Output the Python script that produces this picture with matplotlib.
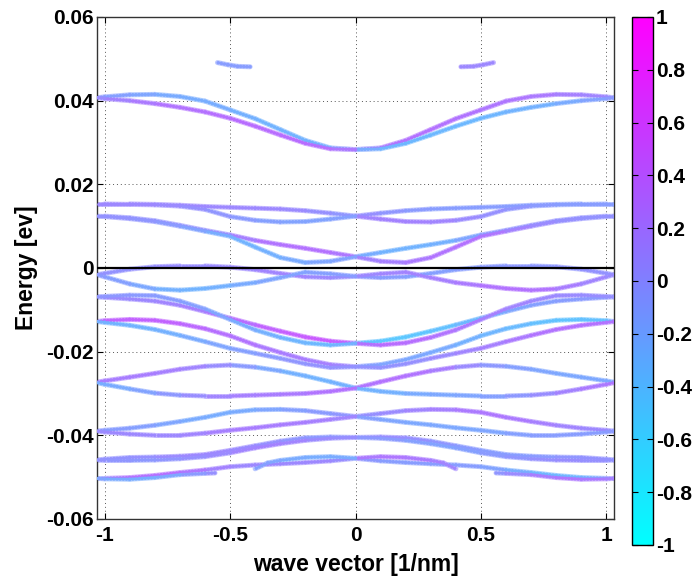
import numpy as np
import matplotlib
matplotlib.use("Agg")
import matplotlib.pyplot as plt
from matplotlib.collections import LineCollection
from matplotlib.colors import Normalize
from matplotlib.cm import ScalarMappable
from matplotlib.ticker import FuncFormatter

plt.rcParams['font.family'] = ['Liberation Sans', 'DejaVu Sans']
plt.rcParams['font.weight'] = 'bold'
plt.rcParams['axes.unicode_minus'] = False

# wave-vector nodes (1/nm) for the k >= 0 half; the k < 0 half is its
# time-reversed partner (same energy, opposite spin polarisation)
k_nodes = [0.0, 0.1, 0.2, 0.3, 0.4, 0.5, 0.6, 0.7, 0.8, 0.9, 1.0, 1.03]

# band energies (eV) and spin polarisation for each band
e_h1 = [0.0283, 0.0287, 0.0305, 0.0331, 0.0357, 0.0378, 0.0399, 0.0410, 0.0415, 0.0414, 0.0409, 0.0407]
s_h1 = [0.2, 0.25, 0.3, 0.3, 0.3, 0.25, 0.25, 0.25, 0.2, 0.15, 0.1, 0.05]
e_h2 = [0.0283, 0.0285, 0.0298, 0.0318, 0.0339, 0.0358, 0.0373, 0.0384, 0.0393, 0.0400, 0.0405, 0.0407]
s_h2 = [-0.2, -0.3, -0.35, -0.35, -0.35, -0.35, -0.3, -0.3, -0.25, -0.2, -0.1, -0.05]

k_top = [0.42, 0.47, 0.51, 0.55]
e_top = [0.0481, 0.0482, 0.0486, 0.0491]
s_top = [0.1, 0.1, 0.1, 0.1]

e_m1 = [0.0124, 0.0131, 0.0137, 0.0141, 0.0143, 0.0145, 0.0147, 0.0150, 0.0152, 0.0153, 0.0153, 0.0153]
s_m1 = [0.05, 0.0, -0.05, -0.1, -0.1, -0.1, -0.1, -0.1, -0.1, -0.1, -0.1, -0.1]
e_m2 = [0.0124, 0.0117, 0.0111, 0.0110, 0.0114, 0.0123, 0.0140, 0.0148, 0.0151, 0.0152, 0.0153, 0.0153]
s_m2 = [0.1, 0.15, 0.15, 0.15, 0.1, 0.05, 0.0, -0.05, -0.1, -0.1, -0.1, -0.1]

e_r = [0.0027, 0.0037, 0.0047, 0.0056, 0.0066, 0.0079, 0.0090, 0.0102, 0.0113, 0.0120, 0.0124, 0.0124]
s_r = [-0.2, -0.3, -0.3, -0.3, -0.25, -0.1, -0.05, 0.0, 0.0, 0.0, 0.0, 0.0]
e_s = [0.0027, 0.0016, 0.0013, 0.0025, 0.0050, 0.0076, 0.0088, 0.0100, 0.0111, 0.0118, 0.0123, 0.0124]
s_s = [0.15, 0.15, 0.2, 0.25, 0.3, 0.3, 0.2, 0.1, 0.05, 0.0, 0.0, 0.0]

e_t = [-0.0020, -0.0023, -0.0021, -0.0013, -0.0004, 0.0002, 0.0005, 0.0005, 0.0003, -0.0003, -0.0013, -0.0016]
s_t = [0.0, -0.1, -0.1, -0.15, -0.1, -0.1, -0.05, -0.05, -0.05, 0.0, 0.0, 0.0]
e_u = [-0.0020, -0.0014, -0.0010, -0.0023, -0.0035, -0.0042, -0.0049, -0.0053, -0.0050, -0.0038, -0.0021, -0.0016]
s_u = [0.1, 0.1, 0.15, 0.15, 0.2, 0.25, 0.3, 0.3, 0.25, 0.15, 0.1, 0.05]

e_q1 = [-0.0180, -0.0175, -0.0165, -0.0151, -0.0136, -0.0120, -0.0104, -0.0089, -0.0079, -0.0074, -0.0070, -0.0069]
s_q1 = [-0.4, -0.5, -0.5, -0.45, -0.4, -0.3, -0.2, -0.15, -0.1, -0.1, -0.05, 0.0]
e_q2 = [-0.0180, -0.0184, -0.0179, -0.0166, -0.0148, -0.0123, -0.0098, -0.0079, -0.0066, -0.0065, -0.0068, -0.0069]
s_q2 = [0.25, 0.35, 0.35, 0.3, 0.25, 0.2, 0.15, 0.1, 0.1, 0.05, 0.05, 0.0]

e_v1 = [-0.0236, -0.0231, -0.0219, -0.0202, -0.0184, -0.0162, -0.0145, -0.0133, -0.0125, -0.0123, -0.0126, -0.0128]
s_v1 = [-0.1, -0.15, -0.2, -0.2, -0.25, -0.3, -0.35, -0.4, -0.45, -0.45, -0.4, -0.4]
e_v2 = [-0.0236, -0.0238, -0.0229, -0.0216, -0.0204, -0.0192, -0.0176, -0.0161, -0.0147, -0.0137, -0.0130, -0.0128]
s_v2 = [0.0, 0.0, 0.0, 0.05, 0.1, 0.15, 0.2, 0.25, 0.3, 0.3, 0.3, 0.25]

e_w1 = [-0.0287, -0.0272, -0.0258, -0.0246, -0.0237, -0.0232, -0.0235, -0.0242, -0.0252, -0.0261, -0.0270, -0.0273]
s_w1 = [0.25, 0.3, 0.3, 0.25, 0.15, 0.0, -0.1, -0.15, -0.2, -0.2, -0.2, -0.2]
e_w2 = [-0.0287, -0.0295, -0.0300, -0.0302, -0.0304, -0.0306, -0.0306, -0.0304, -0.0299, -0.0289, -0.0278, -0.0274]
s_w2 = [-0.3, -0.3, -0.25, -0.2, -0.2, -0.15, -0.1, 0.0, 0.1, 0.2, 0.25, 0.25]

e_z1 = [-0.0355, -0.0348, -0.0341, -0.0338, -0.0339, -0.0345, -0.0357, -0.0367, -0.0376, -0.0383, -0.0388, -0.0390]
s_z1 = [0.0, 0.05, 0.1, 0.15, 0.2, 0.25, 0.25, 0.2, 0.15, 0.1, 0.1, 0.05]
e_z2 = [-0.0355, -0.0362, -0.0369, -0.0375, -0.0382, -0.0388, -0.0395, -0.0400, -0.0400, -0.0397, -0.0392, -0.0390]
s_z2 = [-0.1, -0.15, -0.2, -0.2, -0.2, -0.2, -0.15, -0.1, -0.1, -0.1, -0.1, -0.05]

e_y1 = [-0.0405, -0.0404, -0.0406, -0.0414, -0.0425, -0.0436, -0.0446, -0.0450, -0.0452, -0.0453, -0.0457, -0.0459]
s_y1 = [0.05, 0.05, 0.05, 0.0, -0.05, -0.1, -0.1, -0.1, -0.05, 0.0, 0.0, 0.0]
e_y2 = [-0.0405, -0.0407, -0.0412, -0.0420, -0.0430, -0.0442, -0.0451, -0.0456, -0.0459, -0.0460, -0.0460, -0.0459]
s_y2 = [-0.05, -0.05, -0.1, -0.15, -0.15, -0.1, -0.05, 0.0, 0.05, 0.05, 0.0, 0.0]

e_x1 = [-0.0455, -0.0461, -0.0465, -0.0468, -0.0471, -0.0475, -0.0483, -0.0489, -0.0496, -0.0501, -0.0503, -0.0503]
s_x1 = [0.0, -0.1, -0.1, -0.1, -0.1, -0.1, -0.2, -0.3, -0.35, -0.3, -0.3, -0.3]
k_x2 = [0.0, 0.1, 0.2, 0.3, 0.35, 0.40]
e_x2 = [-0.0455, -0.0451, -0.0453, -0.0460, -0.0466, -0.0480]
s_x2 = [0.2, 0.25, 0.25, 0.2, 0.15, 0.1]
k_x3 = [0.56, 0.6, 0.7, 0.8, 0.9, 1.0, 1.03]
e_x3 = [-0.0490, -0.0491, -0.0494, -0.0501, -0.0505, -0.0504, -0.0503]
s_x3 = [-0.05, 0.0, 0.15, 0.25, 0.25, 0.2, 0.15]

bands = [
    (k_nodes, e_h1, s_h1), (k_nodes, e_h2, s_h2), (k_top, e_top, s_top),
    (k_nodes, e_m1, s_m1), (k_nodes, e_m2, s_m2),
    (k_nodes, e_r, s_r), (k_nodes, e_s, s_s),
    (k_nodes, e_t, s_t), (k_nodes, e_u, s_u),
    (k_nodes, e_q1, s_q1), (k_nodes, e_q2, s_q2),
    (k_nodes, e_v1, s_v1), (k_nodes, e_v2, s_v2),
    (k_nodes, e_w1, s_w1), (k_nodes, e_w2, s_w2),
    (k_nodes, e_z1, s_z1), (k_nodes, e_z2, s_z2),
    (k_nodes, e_y1, s_y1), (k_nodes, e_y2, s_y2),
    (k_nodes, e_x1, s_x1), (k_x2, e_x2, s_x2), (k_x3, e_x3, s_x3),
]

x_ticks = [-1, -0.5, 0, 0.5, 1]
y_ticks = [-0.06, -0.04, -0.02, 0, 0.02, 0.04, 0.06]
cbar_ticks = [-1, -0.8, -0.6, -0.4, -0.2, 0, 0.2, 0.4, 0.6, 0.8, 1]

cmap = plt.get_cmap('cool')
norm = Normalize(vmin=-1, vmax=1)

fig = plt.figure(figsize=(6.96, 5.78), dpi=100)
ax = fig.add_axes([0.1394, 0.1021, 0.7428, 0.8685])


def draw_band(ax, k, e, s):
    k = np.asarray(k, float)
    e = np.asarray(e, float)
    s = np.asarray(s, float)
    for sign in (1, -1):
        pts = np.column_stack([sign * k, e])
        segs = np.stack([pts[:-1], pts[1:]], axis=1)
        cval = 0.5 * (s[:-1] + s[1:]) * sign
        rgba = cmap(norm(cval))
        core = rgba.copy()
        core[:, :3] = 0.85 * rgba[:, :3] + 0.15
        halo = rgba.copy()
        halo[:, :3] = 0.5 * rgba[:, :3] + 0.5
        ax.add_collection(LineCollection(segs, colors=halo, linewidths=3.6,
                                         capstyle='round', zorder=2))
        ax.add_collection(LineCollection(segs, colors=core, linewidths=2.5,
                                         linestyles=[(0, (0.05, 0.85))],
                                         capstyle='round', zorder=3))


for k, e, s in bands:
    draw_band(ax, k, e, s)

ax.axhline(0, color='black', lw=1.6, zorder=4)

ax.set_xlim(-1.03, 1.03)
ax.set_ylim(-0.06, 0.06)
ax.set_xticks(x_ticks)
ax.set_yticks(y_ticks)
fmt = FuncFormatter(lambda v, p: f"{round(v, 4):g}")
ax.xaxis.set_major_formatter(fmt)
ax.yaxis.set_major_formatter(fmt)
ax.tick_params(direction='in', length=4, width=0.8, labelsize=15,
               top=True, right=True)
ax.tick_params(axis='y', pad=2)
ax.tick_params(axis='x', pad=5)
ax.grid(True, color='#555555', linestyle=(0, (1, 3)), linewidth=0.7, zorder=0)
ax.set_axisbelow(True)
for sp in ax.spines.values():
    sp.set_linewidth(1.0)
    sp.set_color('#333333')

ax.set_xlabel('wave vector [1/nm]', fontsize=16.5, fontweight='bold', labelpad=6)
ax.set_ylabel('Energy [ev]', fontsize=16.5, fontweight='bold', labelpad=6)

cax = fig.add_axes([0.908, 0.0571, 0.0302, 0.9135])
sm = ScalarMappable(norm=norm, cmap=cmap)
cb = fig.colorbar(sm, cax=cax, ticks=cbar_ticks)
cb.ax.yaxis.set_major_formatter(fmt)
cb.ax.tick_params(direction='in', length=4, width=0.8, labelsize=15,
                  left=True, right=True, pad=2)
cb.outline.set_linewidth(1.0)

fig.savefig('out.png', dpi=100)
